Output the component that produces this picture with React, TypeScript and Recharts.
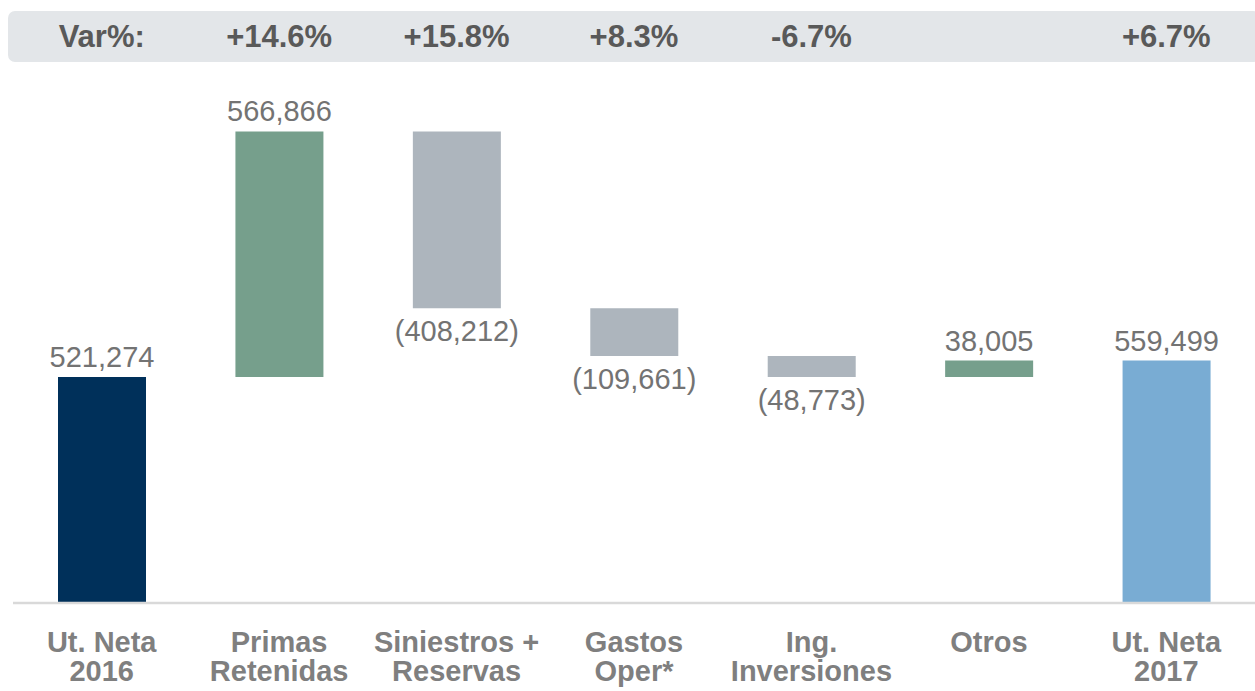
import { ComposedChart, Bar, Cell, XAxis, YAxis, LabelList } from "recharts";

const CATEGORIAS = [
  ["Ut. Neta", "2016"],
  ["Primas", "Retenidas"],
  ["Siniestros +", "Reservas"],
  ["Gastos", "Oper*"],
  ["Ing.", "Inversiones"],
  ["Otros"],
  ["Ut. Neta", "2017"],
];
const VALORES = [521274, 566866, -408212, -109661, -48773, 38005, 559499];
const ES_TOTAL = [true, false, false, false, false, false, true];
const VAR_PCT = ["Var%:", "+14.6%", "+15.8%", "+8.3%", "-6.7%", "", "+6.7%"];
const CORES = ["#00305a", "#769f8c", "#adb5bd", "#adb5bd", "#adb5bd", "#769f8c", "#79acd3"];

const FONTE = "'Liberation Sans', Arial, sans-serif";

const formatar = (v: number) => {
  const s = Math.abs(v).toLocaleString("en-US");
  return v < 0 ? `(${s})` : s;
};

// monta base invisível + tamanho visível de cada degrau
let acumulado = 0;
const dados = CATEGORIAS.map((c, i) => {
  const v = VALORES[i];
  let base = 0;
  if (ES_TOTAL[i]) {
    acumulado = v;
  } else {
    const fim = acumulado + v;
    base = Math.min(acumulado, fim);
    acumulado = fim;
  }
  return { nome: c.join(" "), idx: i, base, tamanho: Math.abs(v), valor: v };
});

function TickInferior(props: any) {
  const { x, y, payload } = props;
  const linhas = CATEGORIAS[payload.index] || [];
  return (
    <text x={x} textAnchor="middle" fontFamily={FONTE} fontWeight="bold" fontSize={29} fill="#7f7f7f">
      {linhas.map((l, k) => (
        <tspan key={k} x={x} y={y + 49 + k * 29}>
          {l}
        </tspan>
      ))}
    </text>
  );
}

function TickSuperior(props: any) {
  const { x, y, payload } = props;
  return (
    <text x={x} y={y - 36} textAnchor="middle" fontFamily={FONTE} fontWeight="bold" fontSize={31} fill="#595959">
      {VAR_PCT[payload.index]}
    </text>
  );
}

function Rotulo(props: any) {
  const { x, y, width, height, index } = props;
  const v = VALORES[index];
  const ty = v >= 0 ? y - 10 : y + height + 33;
  return (
    <text x={x + width / 2} y={ty} textAnchor="middle" fontFamily={FONTE} fontSize={29} fill="#737373">
      {formatar(v)}
    </text>
  );
}

export default function App() {
  return (
    <div style={{ position: "relative", width: 1255, height: 691 }}>
      <style>{`body{margin:0}`}</style>
      <div
        style={{
          position: "absolute",
          left: 8,
          top: 11,
          width: 1252,
          height: 51,
          background: "#e3e6e9",
          borderRadius: 7,
        }}
      />
      <div style={{ position: "absolute", left: 0, top: 0 }}>
        <ComposedChart
          width={1255}
          height={691}
          data={dados}
          margin={{ top: 0, right: 0, bottom: 0, left: 13 }}
          barCategoryGap="50%"
        >
          <XAxis
            xAxisId="top"
            orientation="top"
            dataKey="nome"
            height={83}
            axisLine={false}
            tickLine={false}
            tickSize={0}
            tickMargin={0}
            interval={0}
            tick={<TickSuperior />}
          />
          <XAxis
            dataKey="nome"
            height={88}
            axisLine={{ stroke: "#d9d9d9", strokeWidth: 2.5 }}
            tickLine={false}
            tickSize={0}
            tickMargin={0}
            interval={0}
            tick={<TickInferior />}
          />
          <YAxis hide domain={[0, 1200000]} />
          <Bar dataKey="base" stackId="w" fill="transparent" barSize={88} isAnimationActive={false} />
          <Bar dataKey="tamanho" stackId="w" barSize={88} isAnimationActive={false}>
            {dados.map((d) => (
              <Cell key={d.idx} fill={CORES[d.idx]} />
            ))}
            <LabelList dataKey="valor" content={<Rotulo />} />
          </Bar>
        </ComposedChart>
      </div>
    </div>
  );
}
